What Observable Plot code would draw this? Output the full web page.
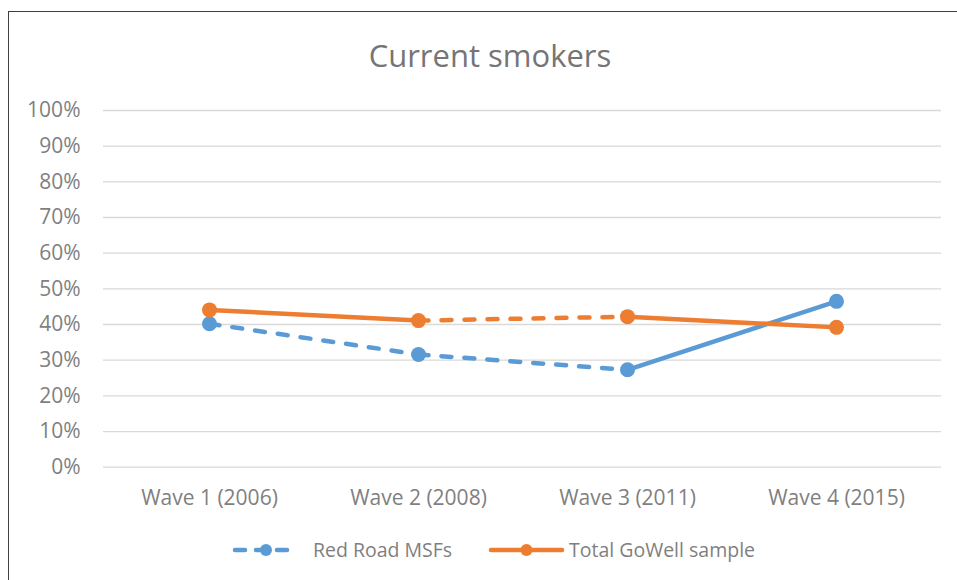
<!DOCTYPE html>
<html>
<head>
<meta charset="utf-8">
<script src="https://cdn.jsdelivr.net/npm/d3@7"></script>
<script src="https://cdn.jsdelivr.net/npm/@observablehq/plot@0.6"></script>
<style>
  body { margin: 0; background: #fff; font-family: "Open Sans", sans-serif; overflow: hidden; }
  #wrap { position: relative; width: 957px; height: 580px; overflow: hidden; background: #fff; }
  #frame { position: absolute; left: 8px; top: 11px; width: 980px; height: 640px; border: 1.5px solid #404040; box-sizing: border-box; }
  #title { position: absolute; left: 9px; width: 962px; top: 35px; line-height: 40px; text-align: center; font-size: 31px; color: #757575; }
  #chart { position: absolute; left: 0; top: 90px; }
  .leg { position: absolute; top: 539px; height: 22px; display: flex; align-items: center; font-size: 19.5px; line-height: 20px; color: #7f7f7f; white-space: nowrap; }
  .leg svg { display: block; }
</style>
</head>
<body>
<div id="wrap">
  <div id="frame"></div>
  <div id="title">Current smokers</div>
  <div id="chart"></div>
  <div id="legend"></div>
</div>
<script>
const waves = ["Wave 1 (2006)", "Wave 2 (2008)", "Wave 3 (2011)", "Wave 4 (2015)"];
const seriesNames = ["Red Road MSFs", "Total GoWell sample"];
const seriesColors = ["#5b9bd5", "#ed7d31"];
const redRoad = [40.2, 31.6, 27.3, 46.5];
const goWell = [44.1, 41.1, 42.2, 39.2];
// whether each segment between consecutive waves is dashed
const redRoadDashed = [true, true, false];
const goWellDashed = [false, true, false];
const yTicks = [0, 10, 20, 30, 40, 50, 60, 70, 80, 90, 100];

const seriesValues = [redRoad, goWell];
const seriesDashed = [redRoadDashed, goWellDashed];

const points = [];
const segs = [];
seriesNames.forEach((name, s) => {
  seriesValues[s].forEach((v, i) => points.push({series: name, wave: waves[i], value: v}));
  for (let i = 0; i < waves.length - 1; i++) {
    segs.push({series: name, x1: waves[i], x2: waves[i + 1], y1: seriesValues[s][i], y2: seriesValues[s][i + 1], dashed: seriesDashed[s][i]});
  }
});

const marks = [
  Plot.ruleY(yTicks, {stroke: "#d9d9d9", strokeWidth: 1.3}),
  Plot.axisY({ticks: yTicks, tickSize: 0, tickPadding: 23, tickFormat: d => d + "%", fontSize: 21, label: null}),
  Plot.axisX({tickSize: 0, tickPadding: 23, fontSize: 21, label: null})
];
seriesNames.forEach(name => {
  marks.push(Plot.link(segs.filter(d => d.series === name && !d.dashed), {
    x1: "x1", x2: "x2", y1: "y1", y2: "y2", stroke: "series", strokeWidth: 4.5, strokeLinecap: "round"
  }));
  marks.push(Plot.link(segs.filter(d => d.series === name && d.dashed), {
    x1: "x1", x2: "x2", y1: "y1", y2: "y2", stroke: "series", strokeWidth: 4.5, strokeLinecap: "round", strokeDasharray: "10,13"
  }));
  marks.push(Plot.dot(points.filter(d => d.series === name), {
    x: "wave", y: "value", fill: "series", r: 7.5, stroke: "none"
  }));
});

const chart = Plot.plot({
  width: 957,
  height: 430,
  marginLeft: 103,
  marginRight: 16,
  marginTop: 20,
  marginBottom: 53.3,
  style: {fontFamily: "Open Sans", fontSize: "21px", color: "#7f7f7f", background: "transparent", overflow: "visible"},
  x: {type: "point", domain: waves, padding: 0.5, axis: null},
  y: {domain: [0, 100], axis: null},
  color: {domain: seriesNames, range: seriesColors},
  marks
});
document.getElementById("chart").appendChild(chart);

// legend
const legendPos = [{left: 231, sym: 70, gap: 12}, {left: 487, sym: 79, gap: 3}];
const legend = document.getElementById("legend");
seriesNames.forEach((name, s) => {
  const item = document.createElement("div");
  item.className = "leg";
  item.style.left = legendPos[s].left + "px";
  const w = legendPos[s].sym;
  const dashed = s === 0;
  const svg = d3.create("svg").attr("width", w).attr("height", 22).style("margin-right", legendPos[s].gap + "px");
  svg.append("line").attr("x1", 4).attr("x2", w - 4).attr("y1", 11).attr("y2", 11)
    .attr("stroke", seriesColors[s]).attr("stroke-width", 4.5).attr("stroke-linecap", "round")
    .attr("stroke-dasharray", dashed ? "10,11" : null);
  svg.append("circle").attr("cx", w / 2).attr("cy", 11).attr("r", 6).attr("fill", seriesColors[s]);
  item.appendChild(svg.node());
  const t = document.createElement("span");
  t.textContent = name;
  item.appendChild(t);
  legend.appendChild(item);
});
</script>
</body>
</html>
